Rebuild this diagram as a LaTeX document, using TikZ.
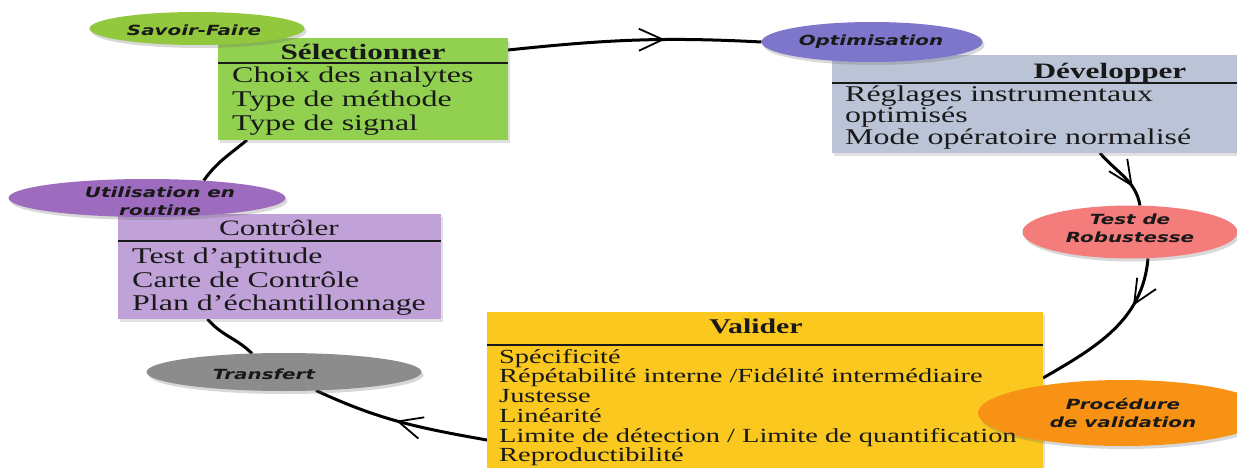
\documentclass[tikz,border=0pt]{standalone}
\usepackage{fontspec}
\setmainfont{Liberation Serif}[FakeStretch=1.42]
\newfontfamily\ellfont{DejaVu Sans}[FakeStretch=1.42]
\usetikzlibrary{shapes.geometric,arrows.meta,decorations.markings,backgrounds,shadows}
\definecolor{cSav}{RGB}{146,200,62}
\definecolor{cSel}{RGB}{146,208,80}
\definecolor{cOpt}{RGB}{126,118,202}
\definecolor{cDev}{RGB}{187,196,214}
\definecolor{cRob}{RGB}{244,124,122}
\definecolor{cPro}{RGB}{247,146,20}
\definecolor{cVal}{RGB}{250,200,30}
\definecolor{cTra}{RGB}{140,140,140}
\definecolor{cUtl}{RGB}{158,108,190}
\definecolor{cCtl}{RGB}{192,162,216}
\definecolor{cTxt}{RGB}{25,25,25}
\begin{document}
\begin{tikzpicture}[x=1pt,y=-1pt,
  ell/.style={ellipse, inner sep=0pt, outer sep=0pt, draw=none,
    drop shadow={shadow xshift=2pt, shadow yshift=-3pt, opacity=0.25, fill=black!60}},
  etext/.style={font=\ellfont\bfseries\itshape\fontsize{14}{18}\selectfont, text=cTxt, align=center, inner sep=0pt},
  boxn/.style={rectangle, anchor=north west, inner sep=0pt, outer sep=0pt, draw=none,
    drop shadow={shadow xshift=2pt, shadow yshift=-3pt, opacity=0.2, fill=black!60}},
  btitle/.style={anchor=base, inner sep=0pt, text=cTxt, font=\fontsize{22}{24}\selectfont\bfseries},
  bitem/.style={anchor=base west, inner sep=0pt, text=cTxt, font=\fontsize{22.5}{24}\selectfont},
  vitem/.style={anchor=base west, inner sep=0pt, text=cTxt, font=\fontsize{20}{20}\selectfont},
  sepline/.style={line width=2pt, draw=cTxt},
  conn/.style={line width=3pt, draw=black},
  midarrow/.style={postaction={decorate}, decoration={markings,
    mark=at position #1 with {\arrow{Straight Barb[length=24pt,width=22pt,line width=1.8pt]}}}}
]
\useasboundingbox (0,0) rectangle (1237,468);
\clip (0,0) rectangle (1237,468);

% boxes
\node[boxn, fill=cSel, minimum width=290pt, minimum height=102pt] (sel) at (218,38) {};
\node[boxn, fill=cDev, minimum width=556pt, minimum height=98pt] (dev) at (832,55) {};
\node[boxn, fill=cCtl, minimum width=323pt, minimum height=105pt] (ctl) at (118,214) {};
\node[boxn, fill=cVal, minimum width=556pt, minimum height=180pt] (val) at (487,312) {};

% ellipses
\node[ell, fill=cSav, minimum width=215pt, minimum height=33pt] (sav) at (197,28.5) {};
\node[ell, fill=cOpt, minimum width=221pt, minimum height=40pt] (opt) at (872,42) {};
\node[ell, fill=cRob, minimum width=215pt, minimum height=53pt] (rob) at (1130,232) {};
\node[ell, fill=cPro, minimum width=290pt, minimum height=66pt] (pro) at (1123,413) {};
\node[ell, fill=cTra, minimum width=275pt, minimum height=38pt] (tra) at (284,372) {};
\node[ell, fill=cUtl, minimum width=277pt, minimum height=38pt] (utl) at (147,198) {};

% ellipse texts
\node[etext] (savt) at (194,30) {Savoir-Faire};
\node[etext] (optt) at (871,42) {Optimisation};
\node[etext] (robt) at (1130,228) {Test de\\Robustesse};
\node[etext] (prot) at (1123,413) {Procédure\\de validation};
\node[etext] (trat) at (264,374) {Transfert};
\node[etext] (utlt) at (160,201) {Utilisation en\\routine};

% Selectionner
\node[btitle] (selt) at (363,60) {Sélectionner};
\draw[sepline] ([yshift=-25pt]sel.north west) -- ([yshift=-25pt]sel.north east);
\node[bitem] (sel1) at (232,83) {Choix des analytes};
\node[bitem] (sel2) at (232,107) {Type de méthode};
\node[bitem] (sel3) at (232,131) {Type de signal};

% Developper
\node[btitle] (devt) at (1110,79) {Développer};
\draw[sepline] ([yshift=-28pt]dev.north west) -- ([yshift=-28pt]dev.north east);
\node[bitem] (dev1) at (845,102) {Réglages  instrumentaux};
\node[bitem] (dev2) at (845,123) {optimisés};
\node[bitem] (dev3) at (845,145) {Mode opératoire normalisé};

% Controler
\node[btitle, font=\fontsize{22}{24}\selectfont] (ctlt) at (279,235) {Contrôler};
\draw[sepline] ([yshift=-27pt]ctl.north west) -- ([yshift=-27pt]ctl.north east);
\node[bitem] (ctl1) at (132,263) {Test d’aptitude};
\node[bitem] (ctl2) at (132,287) {Carte de Contrôle};
\node[bitem] (ctl3) at (132,310) {Plan d’échantillonnage};

% Valider
\node[btitle, font=\fontsize{21}{24}\selectfont\bfseries] (valt) at (756,333) {Valider};
\draw[sepline] ([yshift=-33pt]val.north west) -- ([yshift=-33pt]val.north east);
\node[vitem] (val1) at (499,363) {Spécificité};
\node[vitem] (val2) at (499,382) {Répétabilité  interne /Fidélité intermédiaire};
\node[vitem] (val3) at (499,402) {Justesse};
\node[vitem] (val4) at (499,422) {Linéarité};
\node[vitem] (val5) at (499,442) {Limite de détection / Limite de quantification};
\node[vitem] (val6) at (499,461) {Reproductibilité};

% connectors
\begin{scope}[on background layer]
\fill[white] (0,0) rectangle (1237,468);
\draw[conn, midarrow=0.62] ([yshift=-12pt]sel.north east) to[out=6,in=177] (opt.west);
\draw[conn, midarrow=0.7] ([xshift=-10pt]dev.south) to[out=-50,in=100] ([xshift=10pt]rob.north);
\draw[conn, midarrow=0.3] ([xshift=18pt]rob.south) to[out=-95,in=30] ([yshift=-66pt]val.north east);
\draw[conn, midarrow=0.52] ([yshift=-128pt]val.north west) to[out=170,in=-25] (tra.-30);
\draw[conn] (tra.150) to[out=135,in=-50] ([xshift=-72pt]ctl.south);
\draw[conn] (utl.17) to[out=55,in=220] ([xshift=-116pt]sel.south);
\end{scope}
\end{tikzpicture}
\end{document}
